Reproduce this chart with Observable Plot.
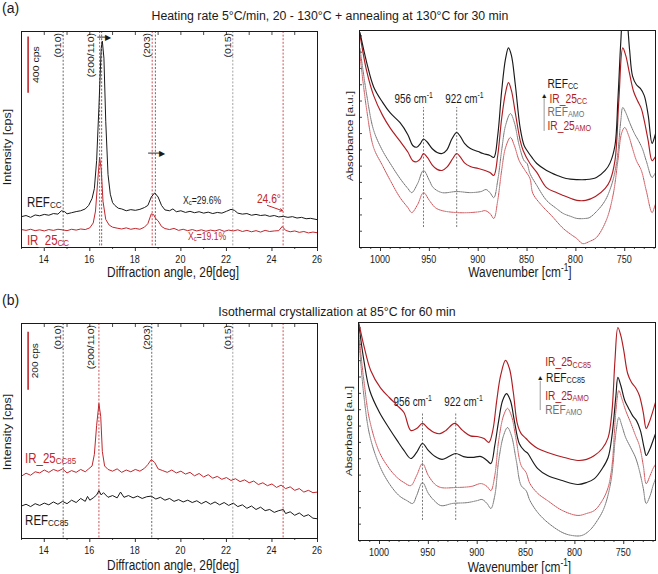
<!DOCTYPE html>
<html><head><meta charset="utf-8">
<script src="https://cdn.jsdelivr.net/npm/d3@7"></script>
<script src="https://cdn.jsdelivr.net/npm/@observablehq/plot@0.6"></script>
<style>
html,body{margin:0;padding:0;background:#fff;}
#wrap{position:relative;width:658px;height:574px;overflow:hidden;background:#fff;}
</style></head><body><div id="wrap"></div>
<script>
// ---------------- DATA ----------------
// XRD tick labels / positions (2θ, deg)
const xrdMajorTicks = [14, 16, 18, 20, 22, 24, 26];
const xrdMinorTicks = [13, 15, 17, 19, 21, 23, 25];
const xrdTopTicks = [13, 14, 15, 16, 17, 18, 19, 20, 21, 22, 23, 24, 25, 26];
const millerLabels = ["(010)", "(200/110)", "(203)", "(015)"];
const millerLabelPos = [14.58, 16.03, 18.49, 22.05];
// reflection positions (dashed lines)
const refLinesA = [14.83, 16.52, 18.88];
const irLinesA = [16.43, 18.74, 24.49];
const grayLines = [22.28];
const refLinesB = [14.83, 18.72];
const irLinesB = [16.40, 24.49];

// (a) XRD, intensity in cps (offset), [2θ, cps]
const xrdA_REF = [[13.0,220],[13.2,228],[13.4,215],[13.6,232],[13.8,226],[14.0,236],[14.2,230],[14.4,242],[14.6,238],[14.75,262],[14.9,255],[15.0,240],[15.2,248],[15.4,256],[15.6,262],[15.8,275],[15.95,300],[16.1,350],[16.2,420],[16.3,620],[16.4,1000],[16.5,1420],[16.55,1471],[16.62,1350],[16.7,900],[16.8,520],[16.9,380],[17.0,320],[17.1,300],[17.25,280],[17.4,275],[17.6,262],[17.8,270],[18.0,265],[18.2,272],[18.4,285],[18.55,300],[18.7,360],[18.85,390],[19.0,360],[19.15,300],[19.3,268],[19.5,262],[19.65,275],[19.8,255],[20.0,262],[20.2,250],[20.4,258],[20.6,248],[20.8,255],[21.0,245],[21.2,252],[21.4,242],[21.6,250],[21.8,245],[22.0,258],[22.2,272],[22.35,265],[22.5,245],[22.7,238],[22.9,242],[23.1,230],[23.3,236],[23.5,228],[23.7,232],[23.9,222],[24.1,228],[24.3,218],[24.5,222],[24.7,215],[24.9,220],[25.1,210],[25.3,215],[25.5,205],[25.7,208],[26.0,198]];
const xrdA_IR25 = [[13.0,128],[13.2,122],[13.4,130],[13.6,120],[13.8,126],[14.0,118],[14.2,128],[14.4,122],[14.6,130],[14.8,126],[15.0,120],[15.2,130],[15.4,124],[15.6,132],[15.8,128],[16.0,140],[16.15,175],[16.25,260],[16.35,480],[16.43,643],[16.5,560],[16.58,330],[16.7,200],[16.85,160],[17.0,145],[17.2,138],[17.4,132],[17.6,140],[17.8,130],[18.0,136],[18.2,130],[18.4,145],[18.55,170],[18.7,240],[18.8,235],[18.9,205],[19.0,190],[19.15,150],[19.3,135],[19.5,128],[19.7,136],[19.9,122],[20.1,130],[20.3,120],[20.5,128],[20.7,118],[20.9,126],[21.1,116],[21.3,124],[21.5,118],[21.7,128],[21.9,115],[22.1,124],[22.3,118],[22.5,126],[22.7,114],[22.9,122],[23.1,112],[23.3,120],[23.5,110],[23.7,122],[23.9,114],[24.1,118],[24.3,120],[24.45,150],[24.6,122],[24.8,112],[25.0,118],[25.2,108],[25.4,114],[25.6,104],[25.8,110],[26.0,105]];

// (b) XRD
const xrdB_IR25 = [[13.0,215],[13.2,225],[13.4,218],[13.6,230],[13.8,226],[14.0,236],[14.2,228],[14.4,238],[14.6,232],[14.8,240],[15.0,226],[15.2,234],[15.4,228],[15.6,238],[15.8,230],[15.95,240],[16.1,250],[16.2,290],[16.3,390],[16.4,465],[16.48,420],[16.55,300],[16.65,250],[16.8,238],[17.0,232],[17.2,240],[17.4,228],[17.6,236],[17.8,230],[18.0,238],[18.2,232],[18.4,242],[18.55,255],[18.7,272],[18.85,262],[19.0,240],[19.2,234],[19.4,228],[19.6,236],[19.8,226],[20.0,232],[20.2,222],[20.4,228],[20.6,216],[20.8,224],[21.0,212],[21.2,220],[21.4,208],[21.6,214],[21.8,204],[22.0,210],[22.2,200],[22.4,206],[22.6,196],[22.8,202],[23.0,192],[23.2,198],[23.4,186],[23.6,192],[23.8,182],[24.0,188],[24.2,176],[24.4,184],[24.6,172],[24.8,178],[25.0,166],[25.2,172],[25.4,160],[25.6,166],[25.8,158],[26.0,160]];
const xrdB_REF = [[13.0,112],[13.2,118],[13.4,110],[13.6,120],[13.8,114],[14.0,122],[14.2,116],[14.4,126],[14.6,118],[14.8,128],[15.0,120],[15.2,132],[15.4,124],[15.6,138],[15.8,128],[15.9,145],[16.0,132],[16.15,140],[16.3,150],[16.4,165],[16.5,150],[16.6,158],[16.8,142],[17.0,148],[17.2,140],[17.35,160],[17.5,142],[17.7,148],[17.9,140],[18.1,146],[18.3,138],[18.5,144],[18.7,146],[18.9,136],[19.1,142],[19.3,132],[19.5,138],[19.7,128],[19.9,134],[20.1,126],[20.3,132],[20.5,124],[20.7,130],[20.9,120],[21.1,128],[21.3,118],[21.5,126],[21.7,116],[21.9,124],[22.1,114],[22.3,122],[22.5,110],[22.7,116],[22.9,104],[23.1,112],[23.3,100],[23.5,108],[23.7,96],[23.9,100],[24.1,90],[24.3,96],[24.5,100],[24.6,86],[24.8,92],[25.0,80],[25.2,88],[25.4,76],[25.6,82],[25.8,70],[26.0,68]];

// FTIR tick labels (wavenumber, cm-1)
const ftirMajorTicks = [1000, 950, 900, 850, 800, 750];
const ftirMinorTicks = [1020,1010,990,980,970,960,940,930,920,910,890,880,870,860,840,830,820,810,790,780,770,760,740,730,720];
const ftirYTicks = [0.075,0.15,0.225,0.3,0.375,0.45,0.525,0.6,0.675,0.75,0.825,0.9,0.975];
const bandPositions = [956, 922];

// (a) FTIR, absorbance (a.u.), [wavenumber, A]
const ftirA_REFCC = [[1021,0.99],[1014,0.85],[1007,0.74],[998,0.67],[990,0.62],[980,0.575],[972,0.52],[967,0.47],[963,0.462],[959,0.48],[956,0.50],[952,0.485],[947,0.455],[942,0.438],[937,0.433],[932,0.45],[927,0.5],[922,0.53],[918,0.51],[914,0.48],[908,0.456],[900,0.442],[895,0.433],[888,0.424],[884,0.415],[880,0.516],[876,0.72],[872,0.87],[869,0.92],[866,0.885],[862,0.75],[857,0.55],[853,0.47],[850,0.447],[845,0.415],[840,0.387],[830,0.355],[819,0.332],[810,0.318],[799,0.313],[790,0.313],[779,0.323],[770,0.355],[765,0.39],[760,0.47],[757,0.68],[754,0.95],[751,1.14],[748,1.07],[745,0.91],[742,0.79],[738,0.75],[734,0.733],[730,0.70],[726,0.61],[722,0.48],[719,0.516],[717,0.55]];
const ftirA_IR25CC = [[1021,0.98],[1014,0.81],[1007,0.70],[998,0.61],[990,0.55],[980,0.49],[972,0.44],[967,0.40],[963,0.395],[959,0.41],[956,0.433],[952,0.415],[947,0.38],[942,0.36],[937,0.355],[932,0.37],[926,0.41],[922,0.433],[918,0.415],[914,0.39],[908,0.373],[900,0.364],[893,0.355],[888,0.346],[884,0.332],[880,0.424],[876,0.594],[872,0.714],[869,0.76],[866,0.724],[862,0.62],[857,0.493],[854,0.447],[847,0.387],[840,0.346],[830,0.276],[820,0.253],[813,0.24],[805,0.226],[799,0.217],[790,0.217],[780,0.235],[770,0.272],[765,0.309],[760,0.40],[756,0.68],[752,0.92],[749,0.885],[745,0.80],[741,0.72],[737,0.677],[733,0.64],[730,0.585],[726,0.493],[722,0.40],[719,0.415],[717,0.433]];
const ftirA_REFAMO = [[1021,0.917],[1014,0.70],[1007,0.54],[998,0.447],[990,0.387],[980,0.318],[972,0.272],[968,0.253],[962,0.295],[956,0.355],[950,0.309],[946,0.276],[937,0.253],[922,0.258],[908,0.253],[897,0.258],[892,0.267],[888,0.253],[884,0.23],[880,0.309],[876,0.447],[872,0.562],[867,0.617],[863,0.576],[858,0.47],[853,0.40],[850,0.387],[847,0.341],[840,0.286],[830,0.217],[820,0.18],[813,0.157],[805,0.143],[799,0.134],[790,0.134],[786,0.138],[778,0.17],[770,0.217],[763,0.295],[758,0.40],[754,0.585],[752,0.645],[749,0.622],[745,0.576],[740,0.525],[736,0.493],[732,0.456],[728,0.40],[722,0.323],[719,0.341],[717,0.355]];
const ftirA_IR25AMO = [[1021,0.885],[1014,0.63],[1007,0.46],[998,0.378],[990,0.309],[980,0.23],[972,0.184],[968,0.161],[962,0.198],[956,0.253],[950,0.217],[944,0.184],[937,0.17],[922,0.161],[908,0.161],[897,0.166],[893,0.17],[888,0.157],[884,0.134],[880,0.217],[876,0.355],[872,0.46],[867,0.507],[863,0.47],[858,0.40],[852,0.355],[847,0.318],[844,0.249],[835,0.194],[825,0.147],[813,0.088],[805,0.06],[799,0.041],[793,0.018],[786,0.028],[779,0.046],[769,0.124],[762,0.24],[757,0.40],[753,0.53],[750,0.553],[746,0.516],[742,0.456],[738,0.40],[733,0.355],[728,0.263],[722,0.161],[719,0.194],[717,0.217]];

// (b) FTIR
const ftirB_IR25CC85 = [[1021,0.995],[1016,0.894],[1009,0.78],[999,0.70],[990,0.656],[982,0.62],[975,0.587],[968,0.505],[962,0.514],[956,0.537],[950,0.514],[944,0.495],[938,0.49],[932,0.505],[923,0.537],[915,0.505],[907,0.48],[900,0.477],[893,0.468],[888,0.45],[884,0.505],[880,0.642],[876,0.757],[871,0.826],[867,0.789],[863,0.679],[859,0.537],[855,0.49],[850,0.468],[845,0.445],[838,0.422],[828,0.404],[811,0.381],[797,0.367],[788,0.372],[780,0.39],[772,0.422],[766,0.472],[762,0.596],[759,0.826],[756,0.977],[753,0.94],[750,0.872],[746,0.766],[742,0.725],[738,0.702],[734,0.665],[730,0.587],[727,0.514],[724,0.541],[720,0.596],[717,0.642]];
const ftirB_REFCC85 = [[1021,0.986],[1016,0.826],[1010,0.688],[1000,0.587],[990,0.514],[982,0.459],[975,0.413],[968,0.376],[962,0.404],[956,0.445],[950,0.413],[943,0.385],[936,0.372],[929,0.385],[922,0.399],[914,0.385],[905,0.381],[896,0.385],[890,0.367],[886,0.353],[882,0.436],[878,0.55],[874,0.642],[870,0.674],[866,0.642],[862,0.55],[857,0.445],[852,0.413],[848,0.399],[845,0.376],[838,0.33],[828,0.298],[813,0.275],[797,0.257],[788,0.266],[780,0.284],[772,0.33],[766,0.381],[762,0.482],[758,0.665],[756,0.748],[753,0.711],[749,0.642],[745,0.606],[741,0.573],[737,0.55],[733,0.505],[729,0.422],[727,0.39],[723,0.422],[720,0.459],[717,0.495]];
const ftirB_IR25AMO = [[1021,0.94],[1016,0.734],[1010,0.55],[1000,0.404],[990,0.33],[982,0.289],[975,0.266],[968,0.252],[962,0.298],[956,0.353],[950,0.298],[943,0.257],[937,0.243],[922,0.243],[906,0.248],[896,0.261],[890,0.248],[886,0.229],[882,0.298],[878,0.459],[873,0.573],[869,0.606],[865,0.573],[860,0.459],[855,0.344],[850,0.312],[846,0.261],[838,0.216],[828,0.183],[813,0.138],[797,0.115],[788,0.124],[780,0.138],[772,0.183],[766,0.243],[762,0.344],[758,0.596],[755,0.688],[752,0.651],[748,0.596],[743,0.541],[738,0.482],[734,0.436],[730,0.344],[727,0.261],[723,0.298],[720,0.33],[717,0.353]];
const ftirB_REFAMO = [[1021,0.917],[1016,0.665],[1010,0.482],[1000,0.344],[990,0.261],[980,0.206],[972,0.183],[966,0.17],[962,0.206],[956,0.266],[950,0.216],[944,0.183],[937,0.16],[925,0.17],[910,0.174],[900,0.183],[895,0.188],[890,0.17],[886,0.147],[882,0.206],[878,0.367],[873,0.482],[869,0.518],[865,0.482],[860,0.367],[855,0.252],[850,0.229],[846,0.183],[838,0.128],[828,0.083],[813,0.037],[803,0.023],[793,0.023],[785,0.046],[777,0.092],[770,0.151],[763,0.275],[758,0.495],[755,0.564],[752,0.528],[748,0.472],[743,0.427],[738,0.381],[734,0.321],[730,0.239],[727,0.17],[723,0.206],[720,0.252],[717,0.289]];

// ---------------- RENDER ----------------
const W = 658, H = 574;
const FONT = '"Liberation Sans", Arial, Helvetica, sans-serif';
const SQ = 0.82;
const INK = "#1a1a1a", RED = "#c0262c", RED2 = "#b01c22", PINK = "#cd4f55", GRAY = "#707070", DASHG = "#8a8a8a";
const wrap = document.getElementById("wrap");

function panel(frame, xDomain, yDomain, marks) {
  const [l, t, r, b] = frame;
  const svg = Plot.plot({
    width: W, height: H,
    marginLeft: l, marginTop: t, marginRight: W - r, marginBottom: H - b,
    x: {domain: xDomain, axis: null}, y: {domain: yDomain, axis: null},
    style: {background: "transparent", overflow: "visible"},
    marks
  });
  svg.style.position = "absolute"; svg.style.left = "0px"; svg.style.top = "0px";
  wrap.appendChild(svg);
  return svg;
}

// pixel-positioned rich text (sub/sup tspans), horizontally condensed like the reference
function TP(svg, px, py, parts, o = {}) {
  const {size = 12, fill = INK, anchor = "start", rot = 0, sq = SQ, central = false, family = FONT} = o;
  const g = d3.select(svg).append("g")
    .attr("transform", `translate(${px},${py}) scale(${sq},1)` + (rot ? ` rotate(${rot})` : ""));
  const t = g.append("text").style("font-family", family).style("font-size", size + "px")
    .attr("fill", fill).attr("text-anchor", anchor);
  if (central) t.attr("dominant-baseline", "central");
  let shift = 0;
  for (const p of parts) {
    const [s, k] = Array.isArray(p) ? p : [p, ""];
    const target = k === "sub" ? size * 0.1 : k === "sup" ? -size * 0.38 : 0;
    const sp = t.append("tspan").text(s).attr("dy", target - shift);
    if (k) sp.style("font-size", (size * 0.7) + "px");
    shift = target;
  }
}
function T(svg, x, y, parts, o) {
  TP(svg, svg.scale("x").apply(x), svg.scale("y").apply(y), parts, o);
}

function xrdMarks(frameH, dashed, series, bar) {
  return [
    Plot.ruleX(xrdTopTicks, {insetBottom: frameH - 4, stroke: INK, strokeWidth: 0.8}),
    Plot.ruleX(xrdMajorTicks, {insetTop: frameH, insetBottom: -4, stroke: INK, strokeWidth: 0.9}),
    Plot.ruleX(xrdMinorTicks, {insetTop: frameH, insetBottom: -2, stroke: INK, strokeWidth: 0.8}),
    ...dashed.map(([pos, c]) => Plot.ruleX(pos, {stroke: c, strokeDasharray: "2,1.6", strokeWidth: 0.8})),
    Plot.ruleX([bar[0]], {y1: () => bar[1], y2: () => bar[2], stroke: RED, strokeWidth: 1.6}),
    ...series.map(([data, c]) => Plot.line(data, {x: d => d[0], y: d => d[1], stroke: c, strokeWidth: 1, clip: true})),
    Plot.frame({stroke: INK, strokeWidth: 1})
  ];
}
function ftirMarks(frameW, frameH, series, bandY) {
  return [
    Plot.ruleX(ftirMajorTicks, {insetTop: frameH, insetBottom: -4, stroke: INK, strokeWidth: 0.9}),
    Plot.ruleX(ftirMinorTicks, {insetTop: frameH, insetBottom: -2, stroke: INK, strokeWidth: 0.8}),
    Plot.ruleY(ftirYTicks, {insetRight: frameW - 3, stroke: INK, strokeWidth: 0.8}),
    Plot.ruleX(bandPositions, {y1: () => bandY[0], y2: () => bandY[1], stroke: "#555", strokeDasharray: "2,1.6", strokeWidth: 0.8}),
    ...series.map(([data, c, dotted]) => Plot.line(data, {x: d => d[0], y: d => d[1], stroke: c,
      strokeWidth: dotted ? 1 : 1.15, strokeDasharray: dotted ? "1.2,1" : null, curve: "catmull-rom", clip: true})),
    Plot.frame({stroke: INK, strokeWidth: 1})
  ];
}

// ---- (a) XRD ----
const fA1 = [21, 31, 317, 247];
const A1 = panel(fA1, [13, 26], [0, 1540], [
  ...xrdMarks(fA1[3] - fA1[1],
    [[refLinesA, "#444"], [grayLines, DASHG], [irLinesA, RED]],
    [[xrdA_REF, INK], [xrdA_IR25, RED]],
    [13.29, 1100, 1500]),
  Plot.link([0], {x1: () => 16.33, x2: () => 16.7, y1: () => 1500, y2: () => 1500, stroke: INK, strokeWidth: 0.9}),
  Plot.text([0], {x: () => 16.78, y: () => 1500, text: () => "▶", fontSize: 8, fill: INK}),
  Plot.link([0], {x1: () => 18.56, x2: () => 19.08, y1: () => 673, y2: () => 673, stroke: INK, strokeWidth: 0.9}),
  Plot.text([0], {x: () => 19.15, y: () => 673, text: () => "▶", fontSize: 8, fill: INK}),
  Plot.arrow([0], {x1: () => 23.8, y1: () => 300, x2: () => 24.46, y2: () => 262, stroke: RED, strokeWidth: 1, headLength: 4})
]);
// ---- (a) FTIR ----
const fA2 = [359, 30, 655, 247];
const A2 = panel(fA2, [1021.5, 718.5], [0, 1], [
  ...ftirMarks(fA2[2] - fA2[0], fA2[3] - fA2[1],
    [[ftirA_IR25AMO, PINK, true], [ftirA_REFAMO, GRAY, true], [ftirA_IR25CC, RED2, false], [ftirA_REFCC, INK, false]],
    [0.092, 0.645]),
  Plot.ruleX([832.5], {y1: () => 0.535, y2: () => 0.685, stroke: "#999", strokeWidth: 1}),
  Plot.text([0], {x: () => 832.5, y: () => 0.7, text: () => "▲", fontSize: 7, fill: INK})
]);
// ---- (b) XRD ----
const fB1 = [21, 323, 317, 538];
const B1 = panel(fB1, [13, 26], [0, 741], [
  ...xrdMarks(fB1[3] - fB1[1],
    [[refLinesB, "#444"], [grayLines, DASHG], [irLinesB, RED]],
    [[xrdB_REF, INK], [xrdB_IR25, RED]],
    [13.29, 511, 711])
]);
// ---- (b) FTIR ----
const fB2 = [358, 322, 655, 540];
const B2 = panel(fB2, [1021.5, 717.5], [0, 1], [
  ...ftirMarks(fB2[2] - fB2[0], fB2[3] - fB2[1],
    [[ftirB_REFAMO, GRAY, true], [ftirB_IR25AMO, PINK, true], [ftirB_REFCC85, INK, false], [ftirB_IR25CC85, RED2, false]],
    [0.092, 0.587]),
  Plot.ruleX([835.5], {y1: () => 0.596, y2: () => 0.73, stroke: "#999", strokeWidth: 1}),
  Plot.text([0], {x: () => 835.5, y: () => 0.745, text: () => "▲", fontSize: 7, fill: INK})
]);

// ---------------- TEXT ----------------
TP(A1, 2, 13, ["(a)"], {size: 14, sq: 1});
TP(A1, 330, 20, ["Heating rate 5°C/min, 20 - 130°C + annealing at 130°C for 30 min"], {size: 12.3, sq: 1, anchor: "middle"});
TP(A1, 2, 305, ["(b)"], {size: 14, sq: 1});
TP(A1, 337, 316, ["Isothermal crystallization at 85°C for 60 min"], {size: 12.3, sq: 1, anchor: "middle"});

function xrdText(svg, f, xlabBase, ylabY) {
  const sx = svg.scale("x");
  xrdMajorTicks.forEach(v => TP(svg, sx.apply(v), f[3] + 15.5, [String(v)], {size: 11, anchor: "middle"}));
  TP(svg, 173, f[3] + xlabBase, ["Diffraction angle, 2θ[deg]"], {size: 14.5, anchor: "middle"});
  TP(svg, 7, ylabY, ["Intensity [cps]"], {size: 12.5, anchor: "middle", rot: -90, central: true});
  millerLabels.forEach((s, i) => TP(svg, sx.apply(millerLabelPos[i]), f[1] + 2, [s], {size: 10.5, anchor: "end", rot: -90, central: true}));
}
function ftirText(svg, f, xlabBase, ylabY, bandY) {
  const sx = svg.scale("x");
  ftirMajorTicks.forEach(v => TP(svg, sx.apply(v), f[3] + 15.5, [String(v)], {size: 11, anchor: "middle"}));
  TP(svg, (f[0] + f[2]) / 2 + 13, f[3] + xlabBase, ["Wavenumber [cm", ["-1", "sup"], "]"], {size: 14.5, anchor: "middle"});
  TP(svg, f[0] - 10, ylabY, ["Absorbance [a.u.]"], {size: 11.5, anchor: "middle", rot: -90, central: true});
  T(svg, 965.5, bandY, ["956 cm", ["-1", "sup"]], {size: 12, anchor: "middle"});
  T(svg, 913.5, bandY, ["922 cm", ["-1", "sup"]], {size: 12, anchor: "middle"});
}

// (a) XRD texts
xrdText(A1, fA1, 30, 147);
T(A1, 13.63, 1300, ["400 cps"], {size: 10.5, anchor: "middle", rot: -90, central: true});
T(A1, 13.26, 286, ["REF", ["CC", "sub"]], {size: 14});
T(A1, 13.26, 14, ["IR_25", ["CC", "sub"]], {size: 14, fill: RED});
T(A1, 20.11, 307, ["X", ["c", "sub"], "=29.6%"], {size: 10.5});
T(A1, 20.33, 50, ["X", ["c", "sub"], "=19.1%"], {size: 10.5, fill: RED});
T(A1, 23.36, 314, ["24.6°"], {size: 12.5, fill: RED});

// (a) FTIR texts
ftirText(A2, fA2, 30, 136, 0.664);
T(A2, 828.6, 0.733, ["REF", ["CC", "sub"]], {size: 12.5});
T(A2, 826.5, 0.665, ["IR_25", ["CC", "sub"]], {size: 12.5, fill: RED2});
T(A2, 828.6, 0.603, ["REF", ["AMO", "sub"]], {size: 12.5, fill: GRAY});
T(A2, 828.6, 0.541, ["IR_25", ["AMO", "sub"]], {size: 12.5, fill: RED2});

// (b) XRD texts
xrdText(B1, fB1, 31.5, 432);
T(B1, 13.63, 611, ["200 cps"], {size: 10, anchor: "middle", rot: -90, central: true});
T(B1, 13.18, 259, ["IR_25", ["CC85", "sub"]], {size: 14, fill: RED});
T(B1, 13.18, 45, ["REF", ["CC85", "sub"]], {size: 14});

// (b) FTIR texts
ftirText(B2, fB2, 32, 431, 0.615);
T(B2, 829.9, 0.797, ["IR_25", ["CC85", "sub"]], {size: 12.5, fill: RED2});
T(B2, 829, 0.726, ["REF", ["CC85", "sub"]], {size: 12.5});
T(B2, 829.9, 0.643, ["IR_25", ["AMO", "sub"]], {size: 12.5, fill: RED2});
T(B2, 829.9, 0.58, ["REF", ["AMO", "sub"]], {size: 12.5, fill: GRAY});
</script></body></html>
